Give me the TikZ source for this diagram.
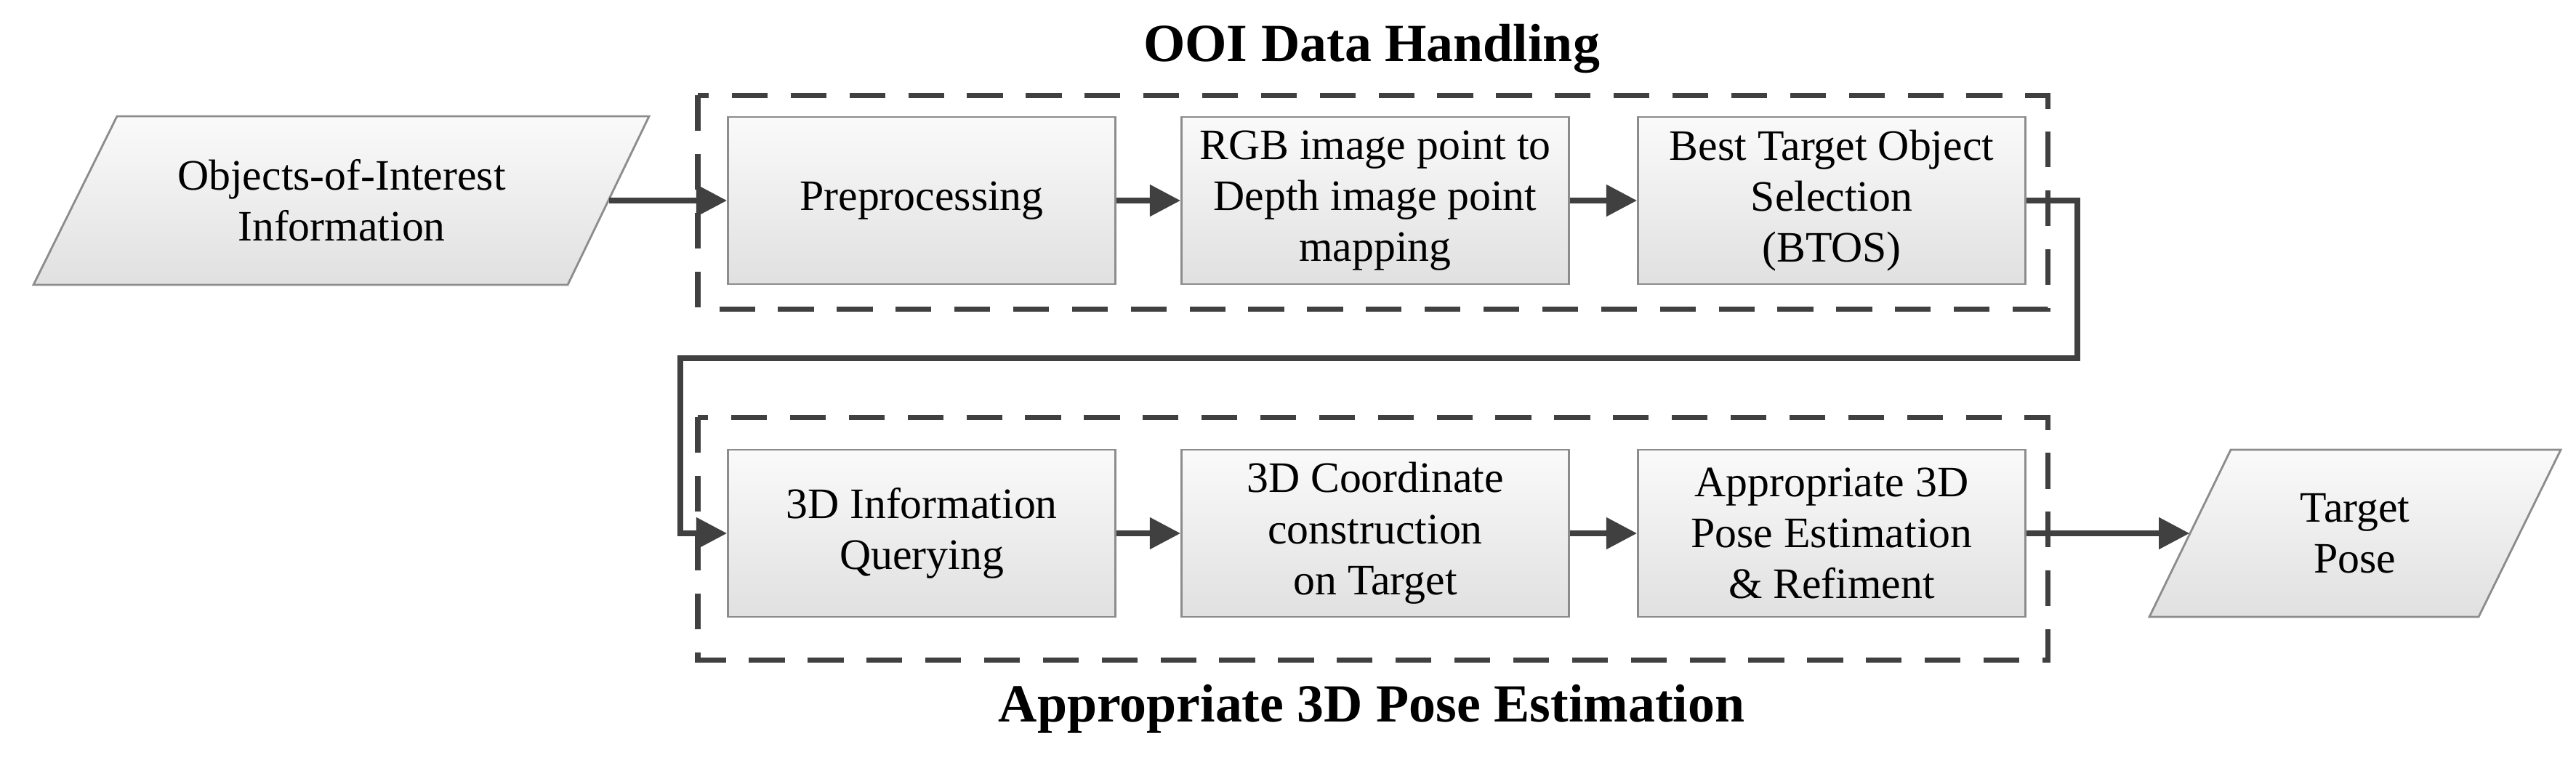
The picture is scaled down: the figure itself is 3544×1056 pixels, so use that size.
\documentclass[tikz,border=0pt]{standalone}
\usepackage{fontspec}
\setmainfont{Liberation Serif}
\usetikzlibrary{arrows.meta}
\begin{document}
\begin{tikzpicture}[x=0.01cm,y=-0.01cm,
  box/.style={draw=black!45,line width=0.8pt,top color=black!2,bottom color=black!12,
    minimum width=533*0.01cm,minimum height=230*0.01cm,align=center,inner sep=2pt,font=\fontsize{17}{20}\selectfont},
  txt/.style={align=center,font=\fontsize{17}{20}\selectfont,inner sep=0pt},
  para/.style={draw=black!45,line width=0.8pt,top color=black!2,bottom color=black!12},
  grp/.style={draw=black!75,line width=2pt,dash pattern=on 14pt off 9pt},
  arr/.style={draw=black!75,line width=2.2pt,-{Triangle[length=12pt,width=12pt]}},
  ttl/.style={font=\bfseries\fontsize{21}{24}\selectfont}]
\useasboundingbox (0,0) rectangle (3544,1056);
% groups
\draw[grp] (960,131) rectangle (2817,425);
\draw[grp] (960,574) rectangle (2817,908);
\node[ttl] (t1) at (1887,67) {OOI Data Handling};
\node[ttl] (t2) at (1887,976) {Appropriate 3D Pose Estimation};
% input parallelogram
\path[para] (161,160) -- (893,160) -- (781,392) -- (46,392) -- cycle;
\node[txt,minimum width=734*0.01cm,minimum height=232*0.01cm] (oi) at (470,276) {Objects-of-Interest\\Information};
% top row
\node[box] (pre) at (1268,276) {Preprocessing};
\node[box] (map) at (1892,276) {RGB image point to\\Depth image point\\mapping};
\node[box] (btos) at (2520,276) {Best Target Object\\Selection\\(BTOS)};
% bottom row
\node[box] (q) at (1268,734) {3D Information\\Querying};
\node[box] (cc) at (1892,734) {3D Coordinate\\construction\\on Target};
\node[box] (pe) at (2520,734) {Appropriate 3D\\Pose Estimation\\\& Refiment};
% output parallelogram
\path[para] (3069,619) -- (3523,619) -- (3410,849) -- (2957,849) -- cycle;
\node[txt,minimum width=454*0.01cm,minimum height=230*0.01cm] (tp) at (3240,734) {Target\\Pose};
\coordinate (b1) at (2858,276);
\coordinate (b2) at (2858,493);
\coordinate (b3) at (936,493);
\coordinate (b4) at (936,734);
% connectors
\draw[arr] (oi.east) -- (pre.west);
\draw[arr] (pre.east) -- (map.west);
\draw[arr] (map.east) -- (btos.west);
\draw[arr] (btos.east) -- (b1) -- (b2) -- (b3) -- (b4) -- (q.west);
\draw[arr] (q.east) -- (cc.west);
\draw[arr] (cc.east) -- (pe.west);
\draw[arr] (pe.east) -- (tp.west);
\end{tikzpicture}
\end{document}
